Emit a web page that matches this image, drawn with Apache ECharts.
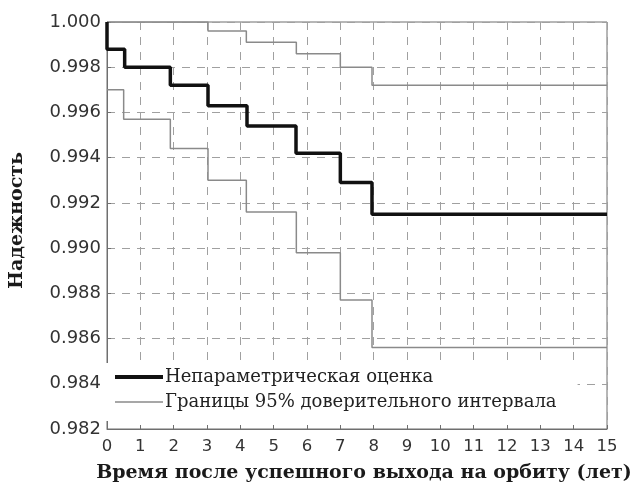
<!DOCTYPE html>
<html>
<head>
<meta charset="utf-8">
<script src="https://cdn.jsdelivr.net/npm/echarts@6/dist/echarts.min.js"></script>
<style>
  html, body { margin: 0; padding: 0; background: #fff; }
  #chart { width: 636px; height: 488px; }
</style>
</head>
<body>
<div id="chart"></div>
<script>
// Kaplan–Meier style reliability estimate with 95% confidence bounds
const estimateTimes  = [0, 0, 0.53, 1.9, 3.03, 4.2, 5.67, 7.0, 7.95, 15];
const estimateValues = [1.000, 0.9988, 0.9980, 0.9972, 0.9963, 0.9954, 0.9942, 0.9929, 0.9915, 0.9915];

const upperTimes  = [0, 3.03, 4.18, 5.68, 7.0, 7.95, 15];
const upperValues = [1.000, 0.9996, 0.9991, 0.9986, 0.9980, 0.9972, 0.9972];

const lowerTimes  = [0, 0.5, 1.9, 3.03, 4.18, 5.68, 7.0, 7.95, 15];
const lowerValues = [0.9970, 0.9957, 0.9944, 0.9930, 0.9916, 0.9898, 0.9877, 0.9856, 0.9856];

const xTicks = [0, 15, 1];          // min, max, step (years)
const yTicks = [0.982, 1.000, 0.002];

const seriesNames = ['Непараметрическая оценка', 'Границы 95% доверительного интервала'];

const pair = (ts, vs) => ts.map((t, i) => [t, vs[i]]);

const serif = '"DejaVu Serif", "Liberation Serif", serif';
const sans = '"DejaVu Sans", "Liberation Sans", sans-serif';

const chart = echarts.init(document.getElementById('chart'), null, { renderer: 'canvas' });

const gridLine = { show: true, lineStyle: { color: '#a0a0a0', width: 1, type: [8, 7] } };

chart.setOption({
  animation: false,
  backgroundColor: '#fff',
  grid: { left: 99, right: 29, top: 22, bottom: 59, show: true, borderColor: '#6f6f6f', borderWidth: 1, backgroundColor: 'transparent' },
  xAxis: {
    type: 'value', min: xTicks[0], max: xTicks[1], interval: xTicks[2],
    name: 'Время после успешного выхода на орбиту (лет)',
    nameLocation: 'middle', nameGap: 35,
    nameTextStyle: { fontFamily: serif, fontWeight: 'bold', fontSize: 19, color: '#1a1a1a', padding: [0, 0, 0, 14] },
    axisLine: { show: true, lineStyle: { color: '#6f6f6f' } },
    axisTick: { show: true, inside: true, length: 4, lineStyle: { color: '#6f6f6f' } },
    axisLabel: { fontFamily: sans, fontSize: 16.5, color: '#333', margin: 9 },
    splitLine: gridLine
  },
  yAxis: {
    type: 'value', min: yTicks[0], max: yTicks[1], interval: yTicks[2],
    name: 'Надежность',
    nameLocation: 'middle', nameGap: 80,
    nameTextStyle: { fontFamily: serif, fontWeight: 'bold', fontSize: 19, color: '#1a1a1a', padding: [0, 0, 0, 10] },
    axisLine: { show: true, lineStyle: { color: '#6f6f6f' } },
    axisTick: { show: true, inside: true, length: 4, lineStyle: { color: '#6f6f6f' } },
    axisLabel: { fontFamily: sans, fontSize: 18, color: '#333', margin: 6, formatter: v => v.toFixed(3) },
    splitLine: gridLine
  },
  legend: {
    left: 100, top: 363, orient: 'vertical',
    backgroundColor: '#fff',
    padding: [5, 21, 10, 15],
    itemWidth: 48, itemHeight: 14, itemGap: 7,
    textStyle: { fontFamily: serif, fontSize: 18, color: '#222', padding: [0, 0, 0, -3] },
    data: [
      { name: seriesNames[0], icon: 'path://M0,0H48V4H0Z' },
      { name: seriesNames[1], icon: 'path://M0,0H48V1.5H0Z' }
    ]
  },
  series: [
    {
      name: seriesNames[1], type: 'line', step: 'end', symbol: 'none', z: 2,
      lineStyle: { color: '#8a8a8a', width: 1.5 }, itemStyle: { color: '#8a8a8a' },
      data: pair(upperTimes, upperValues)
    },
    {
      name: seriesNames[1], type: 'line', step: 'end', symbol: 'none', z: 2,
      lineStyle: { color: '#8a8a8a', width: 1.5 }, itemStyle: { color: '#8a8a8a' },
      data: pair(lowerTimes, lowerValues)
    },
    {
      name: seriesNames[0], type: 'line', step: 'end', symbol: 'none', z: 3,
      lineStyle: { color: '#111', width: 3.5 }, itemStyle: { color: '#111' },
      data: pair(estimateTimes, estimateValues)
    }
  ]
});
</script>
</body>
</html>
